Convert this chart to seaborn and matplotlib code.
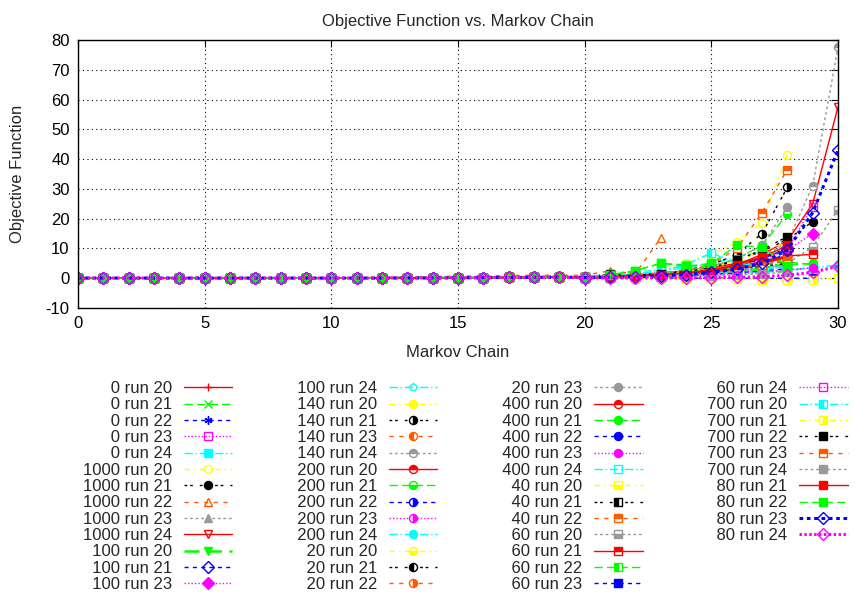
import matplotlib
matplotlib.use("Agg")
import matplotlib.pyplot as plt
from matplotlib.lines import Line2D
import numpy as np
import pandas as pd
import seaborn as sns

# ---------------- data ----------------
# values for Markov chain steps 0..19 (all series sit near zero there)
early = [0.05, 0.05, 0.05, 0.05, 0.05, 0.05, 0.05, 0.05, 0.05, 0.05,
         0.05, 0.05, 0.05, 0.1, 0.1, 0.15, 0.2, 0.25, 0.3, 0.4]
early_orange = [0.05, 0.05, 0.05, 0.05, 0.05, 0.05, 0.05, 0.05, 0.05, 0.1,
                0.1, 0.2, 0.3, 0.5, 0.6, 0.7, 0.8, 0.9, 1.0, 1.0]

# values from step 20 on
t_0_20 = [0.5, 0.8, 1.2, 1.8, 2.5, 3.5, 5.0, 7.0, 9.5]
t_0_21 = [0.4, 0.7, 1.0, 1.5, 2.0, 2.8, 3.5, 4.5, 5.5, 4.5]
t_0_22 = [0.3, 0.5, 0.8, 1.2, 1.8, 2.5, 3.5, 5.0, 7.0]
t_0_23 = [0.2, 0.3, 0.5, 0.8, 1.2, 1.8, 2.5, 3.5, 4.5]
t_0_24 = [0.5, 1.0, 2.0, 3.0, 4.0, 3.0, 2.5, 2.0, 2.5, 3.5]
t_1000_20 = [0.5, 1.0, 1.8, 3.0, 5.0, 8.0, 12.0, 18.5, 41.5]
t_1000_21 = [0.3, 0.6, 1.0, 1.6, 2.5, 4.0, 6.0, 9.0, 13.0, 19.0]
t_1000_22 = [1.0, 2.5, 1.5, 13.5]
t_1000_23 = [0.2, 0.4, 0.7, 1.0, 1.5, 2.2, 3.0, 4.5, 6.5]
t_1000_24 = [0.3, 0.5, 0.8, 1.2, 1.8, 2.8, 4.5, 8.0, 12.5, 25.0, 57.5]
t_100_20 = [0.4, 0.7, 1.0, 1.5, 2.2, 3.0, 4.0, 5.0, 4.0]
t_100_21 = [0.2, 0.4, 0.6, 1.0, 1.5, 2.5, 4.0, 6.5, 10.0]
t_100_23 = [0.2, 0.3, 0.5, 0.8, 1.2, 2.0, 3.5, 6.0, 9.5, 15.0]
t_100_24 = [0.4, 0.8, 1.5, 2.5, 3.5, 5.0, 7.0, 9.0, 8.5]
t_140_20 = [0.3, 0.5, 0.8, 1.2, 2.0, 3.5, 6.0, 9.0, 12.0]
t_140_21 = [0.3, 0.6, 1.0, 1.6, 2.6, 4.5, 8.0, 15.0, 30.5]
t_140_23 = [0.3, 0.5, 0.9, 1.4, 2.0, 3.0, 4.5, 6.0, 6.0]
t_140_24 = [0.2, 0.4, 0.6, 1.0, 1.6, 2.5, 4.0, 7.0, 12.0, 31.0, 77.5]
t_200_20 = [0.2, 0.4, 0.6, 1.0, 1.5, 2.0, 3.0, 5.0, 7.5]
t_200_21 = [0.3, 0.6, 1.0, 1.6, 2.5, 4.0, 6.5, 11.0, 21.5]
t_200_22 = [0.2, 0.4, 0.7, 1.0, 1.5, 2.2, 3.5, 5.5, 8.0]
t_200_23 = [0.1, 0.2, 0.4, 0.6, 0.9, 1.3, 2.0, 3.0, 4.0]
t_200_24 = [0.2, 0.3, 0.5, 0.8, 1.0, 1.4, 1.8, 2.3, 2.8, 3.5, 4.5]
t_20_20 = [0.3, 0.5, 0.9, 1.4, 2.2, 3.5, 6.0, 9.0]
t_20_21 = [0.2, 0.4, 0.7, 1.1, 1.7, 2.6, 4.0, 7.0, 10.0]
t_20_22 = [0.2, 0.4, 0.6, 1.0, 1.5, 2.2, 3.2, 4.5, 6.0]
t_20_23 = [0.3, 0.6, 1.0, 1.6, 2.6, 4.0, 6.5, 11.0, 24.0]
t_400_20 = [0.2, 0.4, 0.7, 1.1, 1.6, 2.3, 3.5, 5.0, 7.0]
t_400_21 = [0.2, 0.4, 0.6, 0.9, 1.3, 1.8, 2.5, 3.5, 4.5, 5.0]
t_400_22 = [0.1, 0.2, 0.4, 0.6, 0.9, 1.3, 1.8, 2.5, 3.2]
t_400_23 = [0.1, 0.2, 0.3, 0.5, 0.7, 1.0, 1.4, 2.0, 2.8, 3.5]
t_400_24 = [0.2, 0.3, 0.5, 0.8, 1.2, 1.7, 2.3, 3.0, 3.8]
t_40_20 = [0.1, 0.1, 0.2, 0.2, 0.1, 0.0, -0.2, -0.5, -0.5]
t_40_21 = [0.2, 1.5, 1.0, 1.2, 1.6, 2.2, 3.0, 4.0, 5.0]
t_40_22 = [0.3, 0.6, 1.0, 1.6, 2.6, 4.5, 10.0, 22.0, 36.5]
t_60_20 = [0.2, 0.3, 0.5, 0.7, 1.0, 1.5, 2.2, 3.2, 5.0, 10.5, 23.0]
t_60_21 = [0.3, 0.5, 0.8, 1.2, 1.8, 2.6, 3.8, 5.5, 7.5, 8.0]
t_60_22 = [0.5, 1.2, 2.5, 5.0, 4.5, 3.8, 3.0, 2.5, 2.0]
t_60_23 = [0.1, 0.1, 0.1, 0.1, 0.0, 0.0, 0.0, 0.0, 0.0, 0.0]
t_60_24 = [0.2, 0.4, 0.6, 1.0, 1.5, 2.3, 3.5, 6.0, 10.0, 24.0]
t_700_20 = [0.3, 0.6, 1.2, 2.5, 4.5, 8.5, 5.0, 4.0, 3.5]
t_700_21 = [0.0, 0.0, 0.0, -0.1, -0.1, -0.2, -0.3, -0.4, -0.5, -0.5, 0.0]
t_700_22 = [0.3, 0.6, 1.0, 1.5, 2.2, 3.5, 6.0, 9.5, 14.0]
t_700_23 = [0.2, 0.4, 0.6, 0.9, 1.4, 2.0, 3.0, 4.5, 6.0]
t_700_24 = [0.1, 0.2, 0.3, 0.4, 0.6, 0.8, 1.1, 1.5, 2.0]
t_80_21 = [0.3, 0.5, 0.8, 1.2, 1.8, 2.8, 4.5, 7.0, 11.0]
t_80_22 = [0.5, 1.0, 2.5, 5.0, 4.0, 5.0, 11.0, 10.5, 4.0]
t_80_23 = [0.2, 0.3, 0.5, 0.8, 1.2, 2.0, 3.0, 5.0, 9.5, 22.0, 43.0]
t_80_24 = [0.1, 0.1, 0.1, 0.1, 0.1, 0.2, 0.3, 0.5, 1.0, 2.0, 4.0]

labels = ["0 run 20", "0 run 21", "0 run 22", "0 run 23", "0 run 24",
          "1000 run 20", "1000 run 21", "1000 run 22", "1000 run 23", "1000 run 24",
          "100 run 20", "100 run 21", "100 run 23", "100 run 24",
          "140 run 20", "140 run 21", "140 run 23", "140 run 24",
          "200 run 20", "200 run 21", "200 run 22", "200 run 23", "200 run 24",
          "20 run 20", "20 run 21", "20 run 22", "20 run 23",
          "400 run 20", "400 run 21", "400 run 22", "400 run 23", "400 run 24",
          "40 run 20", "40 run 21", "40 run 22",
          "60 run 20", "60 run 21", "60 run 22", "60 run 23", "60 run 24",
          "700 run 20", "700 run 21", "700 run 22", "700 run 23", "700 run 24",
          "80 run 21", "80 run 22", "80 run 23", "80 run 24"]
tails = [t_0_20, t_0_21, t_0_22, t_0_23, t_0_24,
         t_1000_20, t_1000_21, t_1000_22, t_1000_23, t_1000_24,
         t_100_20, t_100_21, t_100_23, t_100_24,
         t_140_20, t_140_21, t_140_23, t_140_24,
         t_200_20, t_200_21, t_200_22, t_200_23, t_200_24,
         t_20_20, t_20_21, t_20_22, t_20_23,
         t_400_20, t_400_21, t_400_22, t_400_23, t_400_24,
         t_40_20, t_40_21, t_40_22,
         t_60_20, t_60_21, t_60_22, t_60_23, t_60_24,
         t_700_20, t_700_21, t_700_22, t_700_23, t_700_24,
         t_80_21, t_80_22, t_80_23, t_80_24]

rows = []
for lab, tail in zip(labels, tails):
    head = early_orange if lab == "1000 run 22" else early
    for i, v in enumerate(head + tail):
        rows.append((lab, i, v))
df = pd.DataFrame(rows, columns=["series", "chain", "obj"])

# ---------------- styles (gnuplot-like cycles) ----------------
colors = ["#ff0000", "#00ff00", "#0000ff", "#ff00ff", "#00ffff",
          "#ffff00", "#000000", "#ff5a00", "#999999"]
dashes = ["-", (0, (6, 3)), (0, (3, 3)), (0, (1, 1.5)), (0, (6, 2, 1, 2)),
          (0, (4, 3, 1, 3)), (0, (2, 2, 2, 5)), (0, (3, 4)), (0, (2, 2))]
markers = ["+", "x", (6, 2, 0), "s", "s", "o", "o", "^", "^", "v", "v", "D", "D", "p",
           "o", "o", "o", "o", "o", "o", "o", "o", "o", "o", "o", "o", "o",
           "o", "o", "o", "o", "s", "s", "s", "s", "s", "s", "s", "s", "s",
           "s", "s", "s", "s", "s", "s", "s", "D", "D"]
fills = ["full", "full", "full", "none", "full", "none", "full", "none", "full", "none",
         "full", "none", "full", "none",
         "full", "right", "left", "top", "top", "bottom", "right", "right", "full",
         "bottom", "left", "right", "full",
         "top", "full", "full", "full", "none",
         "bottom", "left", "top",
         "bottom", "top", "left", "full", "none",
         "left", "right", "full", "top", "full",
         "full", "full", "none", "none"]
thick = {"100 run 20": 1.8, "80 run 23": 2.2, "80 run 24": 2.2}
special_dash = {"80 run 23": (0, (1.2, 1.2)), "80 run 24": (0, (0.8, 0.8))}

sns.set_theme(style="white")
plt.rcParams["font.family"] = ["Liberation Sans", "DejaVu Sans"]
plt.rcParams["axes.unicode_minus"] = False

W, H = 855, 598
fig = plt.figure(figsize=(W / 100, H / 100), dpi=100)
ax = fig.add_axes([78 / W, 1 - 308 / H, (838 - 78) / W, (308 - 40) / H])

for i, lab in enumerate(labels):
    c = colors[i % 9]
    sns.lineplot(data=df[df["series"] == lab], x="chain", y="obj", ax=ax,
                 color=c, linestyle=special_dash.get(lab, dashes[i % 9]),
                 linewidth=thick.get(lab, 1.0),
                 marker=markers[i], fillstyle=fills[i], markersize=5.8,
                 markeredgecolor=c, markerfacecolor=c, markerfacecoloralt="white",
                 markeredgewidth=1.0, label=lab, legend=False,
                 estimator=None, sort=False)

ax.set_xlim(0, 30)
ax.set_ylim(-10, 80)
ax.set_xticks(range(0, 31, 5))
ax.set_yticks(range(-10, 81, 10))
ax.grid(True, color="black", linestyle=(0, (1, 3)), linewidth=0.8)
ax.tick_params(direction="in", length=5, width=0.8, top=True, right=True,
               labelsize=12, colors="black", pad=6)
for sp in ax.spines.values():
    sp.set_color("black")
    sp.set_linewidth(1.0)
ax.set_title("Objective Function vs. Markov Chain", fontsize=12, pad=10)
ax.set_xlabel("Markov Chain", fontsize=12, labelpad=10)
ax.set_ylabel("Objective Function", fontsize=12, labelpad=15)

handles = list(ax.get_lines()[:len(labels)])
ndig = [len(l.split(" ")[0]) for l in labels]
padded = [" " * (2 * (4 - n)) + l for n, l in zip(ndig, labels)]
# three empty slots so columns hold 13, 13, 13, 10 entries like the original
for _ in range(3):
    handles.append(Line2D([], [], linestyle="none", marker="none"))
    padded.append("")
leg = fig.legend(handles, padded, ncol=4, loc="upper left",
                 bbox_to_anchor=(83 / W, 1 - 381 / H), bbox_transform=fig.transFigure,
                 frameon=False, markerfirst=False, handlelength=2.9,
                 handletextpad=0.7, columnspacing=3.35, labelspacing=0.08,
                 borderpad=0, borderaxespad=0, fontsize=12, numpoints=1)

fig.savefig("out.png", dpi=100)
